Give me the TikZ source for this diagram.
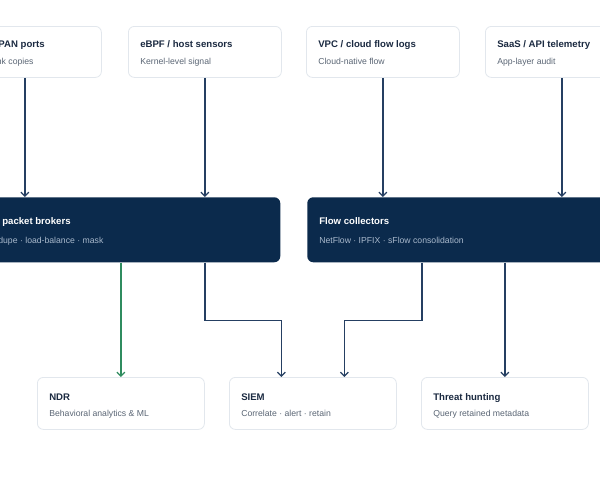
\documentclass[tikz,border=0pt]{standalone}
\usepackage{fontspec}
\setmainfont{Liberation Sans}
\usetikzlibrary{arrows.meta,calc}
\definecolor{navy}{HTML}{0B2A4C}
\definecolor{wire}{HTML}{253F62}
\definecolor{greenwire}{HTML}{2F8C5F}
\definecolor{boxline}{HTML}{E2E7ED}
\definecolor{ttlcol}{HTML}{1B2A41}
\definecolor{subcol}{HTML}{5B6675}
\definecolor{darksub}{HTML}{A9B9CC}
\begin{document}
\begin{tikzpicture}[x=0.75pt,y=-0.75pt,
  lightbox/.style={draw=boxline, fill=white, rounded corners=4.5pt, line width=0.6pt,
    inner sep=0, anchor=north west},
  darkbox/.style={fill=navy, rounded corners=4.5pt, inner sep=0, anchor=north west},
  ttl/.style={font=\bfseries\fontsize{7.2pt}{8pt}\selectfont, text=ttlcol, inner sep=0, anchor=base west},
  sub/.style={font=\fontsize{6.5pt}{7.5pt}\selectfont, text=subcol, inner sep=0, anchor=base west},
  dttl/.style={ttl, text=white},
  dsub/.style={sub, text=darksub},
  flow/.style={draw=wire, line width=0.9pt, -{Straight Barb[length=3pt,width=6pt,line width=0.9pt]}},
  gflow/.style={flow, draw=greenwire}
]
\useasboundingbox (0,0) rectangle (600,480);
\fill[white] (0,0) rectangle (600,480);
\begin{scope}
\clip (0,0) rectangle (600,480);
% top sources
\node[lightbox, minimum width={153*0.75pt}, minimum height={51*0.75pt}] (t1) at (-52,26) {};
\node[lightbox, minimum width={153*0.75pt}, minimum height={51*0.75pt}] (t2) at (128,26) {};
\node[lightbox, minimum width={153*0.75pt}, minimum height={51*0.75pt}] (t3) at (306,26) {};
\node[lightbox, minimum width={153*0.75pt}, minimum height={51*0.75pt}] (t4) at (485,26) {};
\node[ttl] (t1a) at ($(t1.north west)+(12,21.5)$) {TAPs / SPAN ports};
\node[sub] (t1b) at ($(t1.north west)+(12,38)$) {Passive link copies};
\node[ttl] (t2a) at ($(t2.north west)+(12,21.5)$) {eBPF / host sensors};
\node[sub] (t2b) at ($(t2.north west)+(12,38)$) {Kernel-level signal};
\node[ttl] (t3a) at ($(t3.north west)+(12,21.5)$) {VPC / cloud flow logs};
\node[sub] (t3b) at ($(t3.north west)+(12,38)$) {Cloud-native flow};
\node[ttl] (t4a) at ($(t4.north west)+(12,21.5)$) {SaaS / API telemetry};
\node[sub] (t4b) at ($(t4.north west)+(12,38)$) {App-layer audit};
% middle aggregators
\node[darkbox, minimum width={330.5*0.75pt}, minimum height={65*0.75pt}] (pb) at (-50.5,197) {};
\node[darkbox, minimum width={331*0.75pt}, minimum height={65*0.75pt}] (fc) at (307,197) {};
\node[dttl] (pba) at ($(pb.north west)+(12,27)$) {Network packet brokers};
\node[dsub] (pbb) at ($(pb.north west)+(12,46)$) {Filter · dedupe · load-balance · mask};
\node[dttl] (fca) at ($(fc.north west)+(12,27)$) {Flow collectors};
\node[dsub] (fcb) at ($(fc.north west)+(12,46)$) {NetFlow · IPFIX · sFlow consolidation};
% bottom consumers
\node[lightbox, minimum width={167*0.75pt}, minimum height={52*0.75pt}] (ndr) at (37,377) {};
\node[lightbox, minimum width={167*0.75pt}, minimum height={52*0.75pt}] (siem) at (229,377) {};
\node[lightbox, minimum width={167*0.75pt}, minimum height={52*0.75pt}] (th) at (421,377) {};
\node[ttl] (ndra) at ($(ndr.north west)+(12,23.5)$) {NDR};
\node[sub] (ndrb) at ($(ndr.north west)+(12,39)$) {Behavioral analytics \& ML};
\node[ttl] (siema) at ($(siem.north west)+(12,23.5)$) {SIEM};
\node[sub] (siemb) at ($(siem.north west)+(12,39)$) {Correlate · alert · retain};
\node[ttl] (tha) at ($(th.north west)+(12,23.5)$) {Threat hunting};
\node[sub] (thb) at ($(th.north west)+(12,39)$) {Query retained metadata};
% connectors top -> middle
\draw[flow] (t1.south) -- (t1.south |- pb.north);
\draw[flow] (t2.south) -- (t2.south |- pb.north);
\draw[flow] (t3.south) -- (t3.south |- fc.north);
\draw[flow] (t4.south) -- (t4.south |- fc.north);
% middle -> bottom
\coordinate (sl) at ($(siem.north)+(-31.5,0)$);
\coordinate (sr) at ($(siem.north)+(31.5,0)$);
\coordinate (pbo) at (t2.south |- pb.south);
\coordinate (fco) at ($(th.north |- fc.south)+(-83,0)$);
\draw[gflow] (ndr.north |- pb.south) -- (ndr.north);
\draw[flow] (pbo) -- ($(pbo)+(0,58)$) -| (sl);
\draw[flow] (fco) -- ($(fco)+(0,58)$) -| (sr);
\draw[flow] (th.north |- fc.south) -- (th.north);
\end{scope}
\end{tikzpicture}
\end{document}
